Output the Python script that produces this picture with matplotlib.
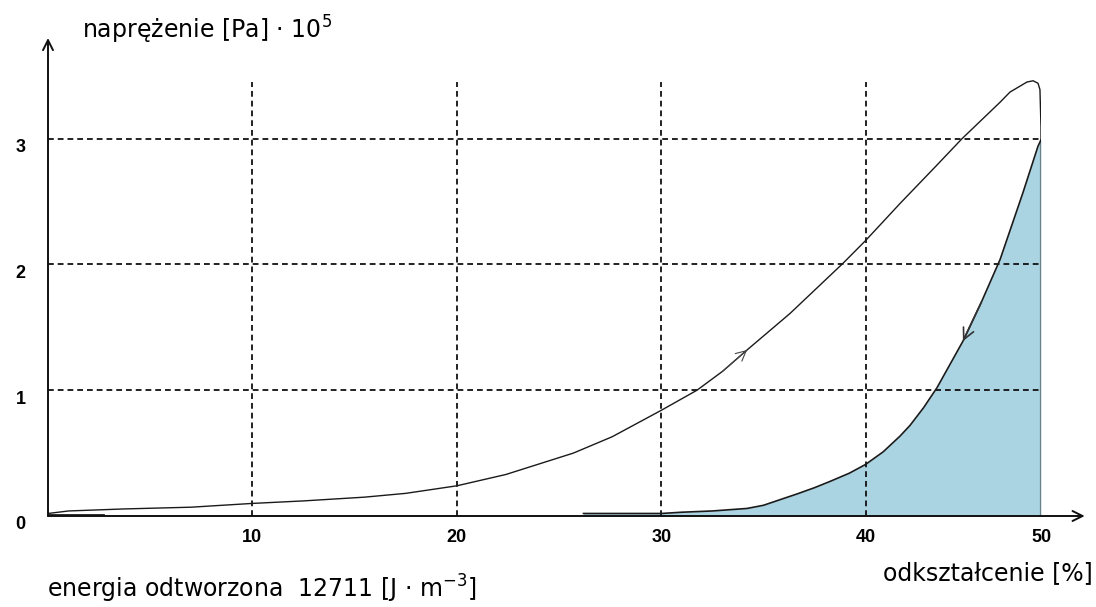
import matplotlib
matplotlib.use('Agg')
import matplotlib.pyplot as plt
import matplotlib.transforms as mtransforms
import numpy as np

plt.rcParams['font.family'] = ['DejaVu Sans']
plt.rcParams['mathtext.fontset'] = 'dejavusans'

# loading branch (strain %, stress x 1e5 Pa)
load_strain = [0.0, 1.0, 3.7, 7.0, 10.0, 12.5, 15.5, 17.5, 20.0, 22.4, 25.7, 27.6, 30.0, 31.75,
               33.0, 34.2, 36.3, 38.9, 40.0, 42.0, 44.0, 45.5, 47.67, 48.23, 49.2, 49.55, 49.83,
               49.94, 50.0, 50.0]
load_stress = [0.02, 0.04, 0.056, 0.07, 0.10, 0.12, 0.15, 0.18, 0.24, 0.33, 0.50, 0.63, 0.84, 1.0,
               1.15, 1.32, 1.61, 2.01, 2.19, 2.49, 2.78, 3.0, 3.29, 3.37, 3.45, 3.46, 3.44,
               3.39, 3.09, 2.99]

# unloading branch
unload_strain = [26.2, 30.0, 31.0, 32.5, 34.2, 35.0, 36.64, 37.5, 38.26, 39.2, 40.0, 41.0,
                 41.96, 42.53, 43.3, 44.07, 45.55, 46.6, 47.67, 48.97, 49.83, 50.0]
unload_stress = [0.02, 0.02, 0.03, 0.04, 0.06, 0.085, 0.175, 0.225, 0.275, 0.34, 0.41, 0.51,
                 0.635, 0.72, 0.86, 1.02, 1.39, 1.70, 2.04, 2.57, 2.94, 2.99]

# small scribble near the origin
origin_strain = [0.0, 2.7]
origin_stress = [0.01, 0.01]

xticks = [10, 20, 30, 40, 50]
yticks = [0, 1, 2, 3]
grid_x = [10, 20, 30, 40]
grid_y = [1, 2, 3]
energy = 12711

# axis above 40 % is drawn a bit compressed in the original
K = 0.858


def fwd(x):
    x = np.asarray(x, dtype=float)
    return np.where(x <= 40, x, 40 + (x - 40) * K)


def inv(f):
    f = np.asarray(f, dtype=float)
    return np.where(f <= 40, f, 40 + (f - 40) / K)


W, H = 1096, 607
fig = plt.figure(figsize=(W / 100, H / 100), dpi=100)
ax = fig.add_axes([48 / W, (H - 516) / H, 993 / W, 478 / H])
ax.set_xscale('function', functions=(fwd, inv))
ax.set_xlim(0, 50)
ax.set_ylim(0, 3.8)
for s in ax.spines.values():
    s.set_visible(False)

line_col = '#1a1a1a'
dash = (0, (3.2, 2.2))
ax.hlines(grid_y, 0, 50, colors='#111111', linestyles=dash, lw=1.3)
ax.vlines(grid_x, 0, 3.45, colors='#111111', linestyles=dash, lw=1.3)

ax.fill_between(unload_strain, unload_stress, 0, color='#aad4e2', lw=0)
ax.vlines([50], 0, 2.99, colors='#6f7f86', lw=1.6)

ax.plot(load_strain, load_stress, color=line_col, lw=1.0)
ax.plot(unload_strain, unload_stress, color=line_col, lw=1.2)
ax.plot(origin_strain, origin_stress, color=line_col, lw=2.0)

# direction arrows on both branches
ax.annotate('', xy=(34.2, 1.32), xytext=(33.0, 1.15),
            arrowprops=dict(arrowstyle='->', lw=0.8, color='#444444', mutation_scale=18,
                            shrinkA=0, shrinkB=0))
ax.annotate('', xy=(45.55, 1.39), xytext=(46.6, 1.70),
            arrowprops=dict(arrowstyle='->', lw=1.2, color='#333333', mutation_scale=20,
                            shrinkA=0, shrinkB=0))

# axes with arrow heads
ax.annotate('', xy=(1.044, 0), xytext=(0, 0), xycoords='axes fraction',
            arrowprops=dict(arrowstyle='->', lw=1.4, color='#111111', mutation_scale=18,
                            shrinkA=0, shrinkB=0), annotation_clip=False)
ax.annotate('', xy=(0, 1.0), xytext=(0, 0), xycoords='axes fraction',
            arrowprops=dict(arrowstyle='->', lw=1.4, color='#111111', mutation_scale=18,
                            shrinkA=0, shrinkB=0), annotation_clip=False)

tick_font = dict(family='Liberation Sans', weight='bold', size=13)
ax.set_xticks(xticks)
ax.set_xticklabels([str(t) for t in xticks], **tick_font)
ax.set_yticks(yticks)
ax.set_yticklabels([str(t) for t in yticks], **tick_font)
ax.tick_params(axis='x', length=0, pad=9)
ax.tick_params(axis='y', length=0, pad=16)
shift = mtransforms.ScaledTranslation(0, -5 / 72, fig.dpi_scale_trans)
for lbl in ax.get_yticklabels():
    lbl.set_transform(lbl.get_transform() + shift)

fig.text(82 / W, 1 - 39 / H, r'naprężenie [Pa] $\cdot$ 10$^5$', fontsize=17, va='baseline')
fig.text(1093 / W, 1 - 580 / H, 'odkształcenie [%]', fontsize=17, va='baseline', ha='right')
fig.text(47 / W, 1 - 598 / H, 'energia odtworzona  %d [J $\\cdot$ m$^{-3}$]' % energy,
         fontsize=17, va='baseline')

fig.savefig('out.png', dpi=100)
